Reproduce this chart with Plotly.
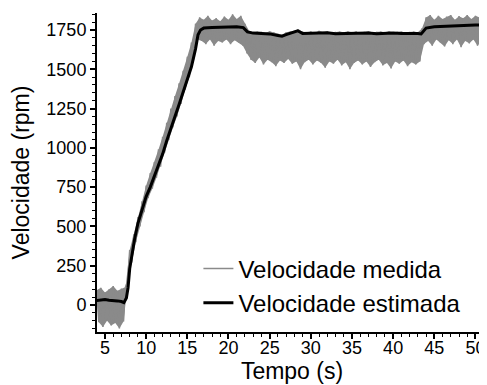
import numpy as np
import plotly.graph_objects as go

# ---- Data ----
# Measured speed: upper excursions sampled at t = 4.0, 4.5, ..., 51.0
meas_hi = [95, 110, 80, 100, 120, 90, 105, 115,
           350, 450, 560, 660, 760, 840, 910, 990, 1070, 1160, 1250, 1330, 1410, 1490, 1580, 1670, 1790,
           1830, 1815, 1840, 1810, 1825, 1805, 1835, 1815, 1850, 1820, 1840,
           1790, 1745, 1735, 1740, 1738, 1732, 1742, 1735, 1725, 1720, 1735, 1740, 1745, 1755, 1738,
           1735, 1740, 1732, 1745, 1736, 1740, 1732, 1738, 1740, 1735, 1742, 1736, 1740, 1732, 1738,
           1742, 1735, 1738, 1740, 1735, 1742, 1736, 1738, 1740, 1734, 1738, 1740, 1736,
           1760, 1830, 1845, 1815, 1840, 1820, 1835, 1845, 1815, 1838, 1825, 1845, 1820, 1840, 1830, 1845]
# Measured speed: lower excursions sampled at t = 4.25, 4.75, ..., 51.25
meas_lo = [-110, -140, -100, -130, -115, -150, -105, 150,
           270, 400, 500, 590, 680, 740, 810, 880, 970, 1050, 1130, 1200, 1280, 1370, 1450, 1560, 1690,
           1680, 1660, 1690, 1650, 1680, 1670, 1690, 1660, 1685, 1670, 1650,
           1600, 1560, 1540, 1575, 1530, 1560, 1545, 1520, 1555, 1540, 1565, 1535, 1550, 1500, 1545,
           1560, 1530, 1555, 1540, 1510, 1550, 1535, 1560, 1525, 1545, 1500, 1540, 1555, 1530, 1550,
           1515, 1545, 1560, 1525, 1540, 1505, 1550, 1535, 1555, 1520, 1545, 1530, 1550,
           1660, 1680, 1650, 1690, 1670, 1645, 1685, 1660, 1690, 1640, 1680, 1665, 1690, 1650, 1680, 1670]
t_hi = 4.0 + 0.5 * np.arange(len(meas_hi))
t_lo = 4.25 + 0.5 * np.arange(len(meas_lo))

# Estimated speed
t_est = [4.0, 4.5, 5.0, 5.5, 6.0, 6.5, 7.0, 7.3, 7.6, 7.8, 8.0, 8.3, 8.6,
         9.0, 9.5, 10.0, 10.5, 11.0, 11.5, 12.0, 12.5, 13.0, 13.5, 14.0, 14.5, 15.0, 15.5, 16.0,
         16.3, 16.6, 17.0, 18.0, 19.0, 20.0, 21.0, 21.8, 22.3, 23.0, 24.0, 25.0, 26.0, 26.5,
         27.0, 27.5, 28.0, 28.4, 29.0, 30.0, 31.0, 32.0, 33.0, 34.0, 35.0, 36.0, 37.0, 38.0,
         39.0, 40.0, 41.0, 42.0, 43.0, 43.4, 44.0, 45.0, 46.0, 47.0, 48.0, 49.0, 50.0, 51.4]
v_est = [28, 32, 35, 30, 30, 26, 22, 15, 45, 110, 230, 330, 420,
         520, 600, 690, 750, 820, 890, 960, 1045, 1130, 1200, 1275, 1360, 1435, 1516, 1630,
         1720, 1750, 1762, 1765, 1768, 1770, 1770, 1765, 1738, 1730, 1728, 1725, 1715, 1710,
         1720, 1728, 1735, 1745, 1728, 1728, 1730, 1732, 1726, 1728, 1730, 1728, 1730, 1726,
         1730, 1730, 1728, 1730, 1728, 1725, 1762, 1770, 1772, 1778, 1780, 1782, 1782, 1782]

x_ticks = [5, 10, 15, 20, 25, 30, 35, 40, 45, 50]
y_ticks = [0, 250, 500, 750, 1000, 1250, 1500, 1750]

# interleave the two sampled excursion series into one time-ordered measured signal
t_meas = np.empty(len(t_hi) + len(t_lo))
v_meas = np.empty(len(t_hi) + len(t_lo))
t_meas[0::2], t_meas[1::2] = t_hi, t_lo
v_meas[0::2], v_meas[1::2] = meas_hi, meas_lo

FONT = "Liberation Sans, Arial, sans-serif"
GRAY = "#8a8a8a"

fig = go.Figure()
# envelope of the measured signal (solid noisy band)
fig.add_trace(go.Scatter(x=np.concatenate([t_hi, t_lo[::-1]]),
                         y=np.concatenate([meas_hi, meas_lo[::-1]]),
                         mode="lines", fill="toself", fillcolor=GRAY,
                         line=dict(color=GRAY, width=0), showlegend=False, hoverinfo="skip"))
fig.add_trace(go.Scatter(x=t_meas, y=v_meas, mode="lines", name="Velocidade medida",
                         line=dict(color=GRAY, width=1.5)))
fig.add_trace(go.Scatter(x=t_est, y=v_est, mode="lines", name="Velocidade estimada",
                         line=dict(color="#000000", width=3)))

axis_common = dict(showline=True, linecolor="black", linewidth=2, ticks="outside",
                   tickcolor="black", tickwidth=1.5, ticklen=5, showgrid=False, zeroline=False,
                   tickfont=dict(family=FONT, size=18, color="black"))

# the page body has an 8px margin; size/margins compensate so the plot sits where the reference's does
fig.update_layout(
    width=479, height=377,
    margin=dict(l=89, r=0, t=5, b=53),
    paper_bgcolor="white", plot_bgcolor="white",
    font=dict(family=FONT, color="black"),
    showlegend=True,
    legend=dict(x=0.26, y=0.268, xanchor="left", yanchor="top", bgcolor="rgba(0,0,0,0)",
                font=dict(family=FONT, size=24, color="black"), tracegroupgap=0),
    xaxis=dict(range=[4.03, 51.4], tickvals=x_ticks, ticklabelstandoff=-7,
               minor=dict(dtick=1, ticks="outside", ticklen=3, tickcolor="black", tickwidth=1),
               title=dict(text="Tempo (s)", font=dict(family=FONT, size=23), standoff=0),
               **axis_common),
    yaxis=dict(range=[-172, 1858], tickvals=y_ticks,
               minor=dict(dtick=50, ticks="outside", ticklen=3, tickcolor="black", tickwidth=1),
               title=dict(text="Velocidade (rpm)", font=dict(family=FONT, size=23), standoff=10),
               **axis_common),
)

fig.write_html("out.html")
